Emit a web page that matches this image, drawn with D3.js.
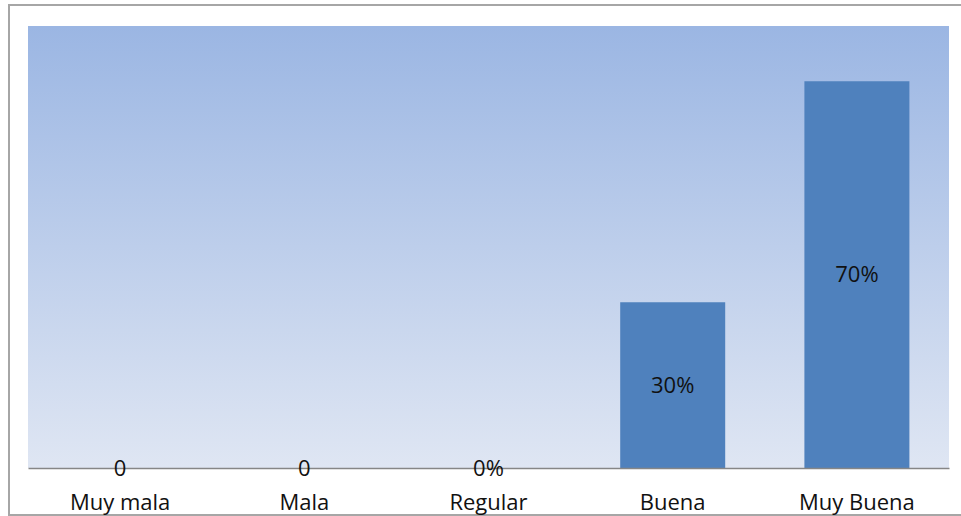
<!DOCTYPE html>
<html>
<head>
<meta charset="utf-8">
<script src="https://cdn.jsdelivr.net/npm/d3@7"></script>
<style>
  body { margin: 0; background: #fff; }
  text { font-family: "Open Sans", "Liberation Sans", sans-serif; fill: #111; }
</style>
</head>
<body>
<div id="chart"></div>
<script>
// data
var categories = ["Muy mala", "Mala", "Regular", "Buena", "Muy Buena"];
var values = [0, 0, 0, 0.30, 0.70];
var valueLabels = ["0", "0", "0%", "30%", "70%"];

var width = 961, height = 516;
var margin = {top: 26, right: 12, bottom: 48, left: 28};

var svg = d3.select("#chart").append("svg")
    .attr("width", width)
    .attr("height", height);

// outer frame
svg.append("rect")
    .attr("x", 9).attr("y", 5)
    .attr("width", width - 8).attr("height", 510)
    .attr("fill", "none")
    .attr("stroke", "#a6a6a6")
    .attr("stroke-width", 2);

var defs = svg.append("defs");
var grad = defs.append("linearGradient")
    .attr("id", "bg").attr("x1", 0).attr("y1", 0).attr("x2", 0).attr("y2", 1);
grad.append("stop").attr("offset", "0%").attr("stop-color", "#9bb6e3");
grad.append("stop").attr("offset", "100%").attr("stop-color", "#dfe6f3");

var xScale = d3.scaleBand()
    .domain(categories)
    .range([margin.left, width - margin.right])
    .paddingInner(0.43)
    .paddingOuter(0.215);

var yScale = d3.scaleLinear()
    .domain([0, 0.8])
    .range([height - margin.bottom, margin.top]);

var data = categories.map(function(c, i) {
  return {cat: c, v: values[i], label: valueLabels[i]};
});

// plot area background
svg.append("rect")
    .attr("x", margin.left)
    .attr("y", margin.top)
    .attr("width", width - margin.right - margin.left)
    .attr("height", height - margin.bottom - margin.top)
    .attr("fill", "url(#bg)");

svg.selectAll("rect.bar")
    .data(data)
    .enter().append("rect")
    .attr("class", "bar")
    .attr("x", function(d) { return xScale(d.cat); })
    .attr("width", xScale.bandwidth())
    .attr("y", function(d) { return yScale(d.v); })
    .attr("height", function(d) { return yScale(0) - yScale(d.v); })
    .attr("fill", "#4f81bd");

// x axis line, ticks hidden
var xAxis = d3.axisBottom(xScale).tickSize(0).tickPadding(26);
var gx = svg.append("g")
    .attr("transform", "translate(0," + yScale(0) + ")")
    .call(xAxis);
gx.attr("font-size", null).attr("font-family", null);
gx.select(".domain").attr("stroke", "#868686").attr("stroke-width", 1.5);
gx.selectAll("text")
    .style("font-size", "22px")
    .attr("fill", "#111");

// value labels
svg.selectAll("text.val")
    .data(data)
    .enter().append("text")
    .attr("class", "val")
    .attr("x", function(d) { return xScale(d.cat) + xScale.bandwidth() / 2; })
    .attr("y", function(d) { return (yScale(0) + yScale(d.v)) / 2; })
    .attr("dy", "0.35em")
    .attr("text-anchor", "middle")
    .style("font-size", "22px")
    .text(function(d) { return d.label; });
</script>
</body>
</html>
